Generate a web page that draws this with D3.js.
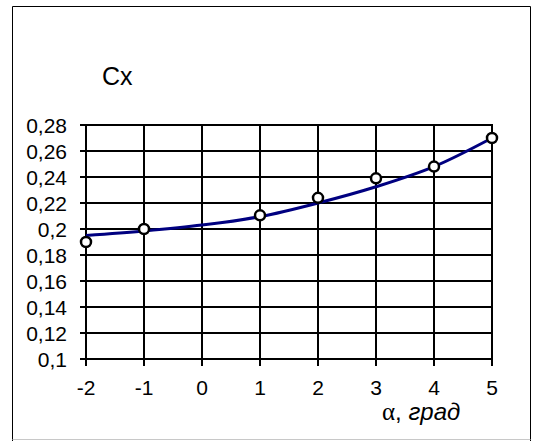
<!DOCTYPE html>
<html>
<head>
<meta charset="utf-8">
<script src="https://cdn.jsdelivr.net/npm/d3@7"></script>
<style>
  body { margin: 0; background: #fff; }
  svg { display: block; }
  text { font-family: "Liberation Sans", Arial, sans-serif; fill: #000; }
</style>
</head>
<body>
<div id="chart"></div>
<script>
// data
const alphaValues = [-2, -1, 1, 2, 3, 4, 5];
const cxValues = [0.19, 0.2, 0.2105, 0.224, 0.239, 0.248, 0.27];

// trend line (smooth fit) as seen on the chart
const trendAlpha = [-2, -1, 0, 1, 2, 3, 4, 5];
const trendCx = [0.195, 0.1985, 0.203, 0.2095, 0.22, 0.2325, 0.248, 0.27];

const xTicks = [-2, -1, 0, 1, 2, 3, 4, 5];
const yTicks = [0.1, 0.12, 0.14, 0.16, 0.18, 0.2, 0.22, 0.24, 0.26, 0.28];
const yLabels = ["0,1", "0,12", "0,14", "0,16", "0,18", "0,2", "0,22", "0,24", "0,26", "0,28"];

const W = 534, H = 441;
const plotLeft = 86, plotRight = 492, plotTop = 125, plotBottom = 359;

let svg = d3.select("#chart").append("svg")
    .attr("width", W)
    .attr("height", H);

svg.append("rect").attr("width", W).attr("height", H).attr("fill", "#fff");

// outer frame
svg.append("path")
    .attr("d", "M12.5,441 V6.5 H530.5 V441")
    .attr("fill", "none").attr("stroke", "#000").attr("stroke-width", 1);
svg.append("line")
    .attr("x1", 12.5).attr("x2", 530.5).attr("y1", 439.5).attr("y2", 439.5)
    .attr("stroke", "#c8c8c8").attr("stroke-width", 1);

let x = d3.scaleLinear().domain([-2, 5]).range([plotLeft, plotRight]);
let y = d3.scaleLinear().domain([0.1, 0.28]).range([plotBottom, plotTop]);

let grid = svg.append("g").attr("stroke", "#000").attr("stroke-width", 2);

grid.selectAll(".h")
    .data(yTicks)
    .enter().append("line")
    .attr("x1", plotLeft - 6).attr("x2", plotRight + 1)
    .attr("y1", d => Math.round(y(d))).attr("y2", d => Math.round(y(d)));

grid.selectAll(".v")
    .data(xTicks)
    .enter().append("line")
    .attr("x1", d => Math.round(x(d))).attr("x2", d => Math.round(x(d)))
    .attr("y1", plotTop - 1).attr("y2", plotBottom + 7);

// tick labels
svg.append("g").selectAll("text")
    .data(yTicks)
    .enter().append("text")
    .attr("x", 67)
    .attr("y", d => y(d) + 8)
    .attr("text-anchor", "end")
    .attr("font-size", 21)
    .text((d, i) => yLabels[i]);

svg.append("g").selectAll("text")
    .data(xTicks)
    .enter().append("text")
    .attr("x", d => x(d))
    .attr("y", 395)
    .attr("text-anchor", "middle")
    .attr("font-size", 21)
    .text(d => d);

// trend line
let line = d3.line()
    .x((d, i) => x(trendAlpha[i]))
    .y(d => y(d))
    .curve(d3.curveCatmullRom);

svg.append("path")
    .datum(trendCx)
    .attr("d", line)
    .attr("fill", "none")
    .attr("stroke", "#000080")
    .attr("stroke-width", 3);

// measured points
svg.append("g").selectAll("circle")
    .data(cxValues)
    .enter().append("circle")
    .attr("cx", (d, i) => x(alphaValues[i]))
    .attr("cy", d => y(d))
    .attr("r", 5)
    .attr("fill", "#fff")
    .attr("stroke", "#000")
    .attr("stroke-width", 2.5);

// axis titles
svg.append("text")
    .attr("x", 102)
    .attr("y", 85)
    .attr("font-size", 25)
    .text("Cx");

let xt = svg.append("text")
    .attr("x", 382)
    .attr("y", 420)
    .attr("font-size", 24);
xt.append("tspan").attr("font-family", "'Liberation Serif', 'Times New Roman', serif").attr("font-size", 25).text("α");
xt.append("tspan").text(", ");
xt.append("tspan").attr("font-style", "italic").text("град");
</script>
</body>
</html>
